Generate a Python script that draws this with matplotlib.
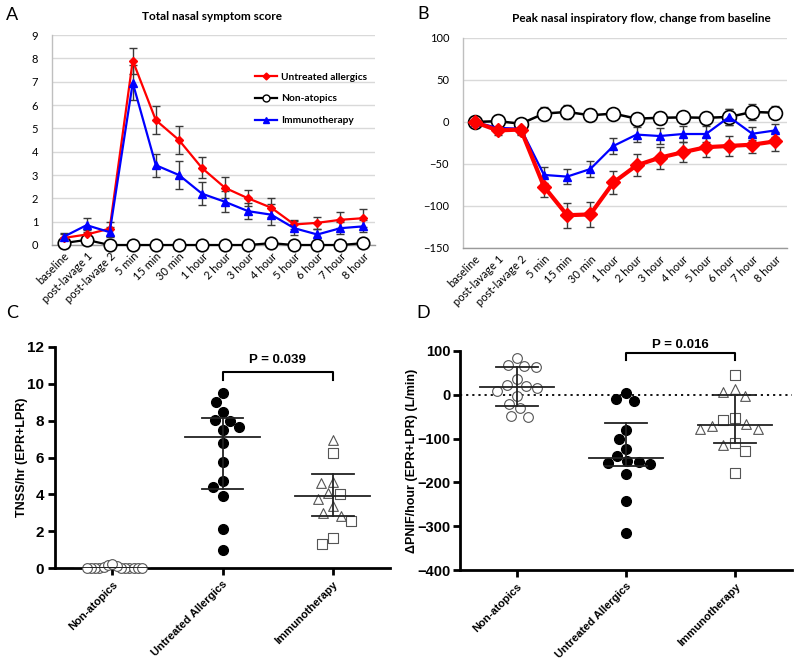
import numpy as np
import matplotlib
matplotlib.use("Agg")
import matplotlib.pyplot as plt
from matplotlib.lines import Line2D

# ---------------- data ----------------
timepoints = ["baseline", "post-lavage 1", "post-lavage 2", "5 min", "15 min", "30 min",
              "1 hour", "2 hour", "3 hour", "4 hour", "5 hour", "6 hour", "7 hour", "8 hour"]

tnss_untreated = [0.3, 0.45, 0.7, 7.9, 5.35, 4.5, 3.3, 2.45, 2.0, 1.6, 0.88, 0.95, 1.08, 1.15]
tnss_untreated_err = [0.15, 0.2, 0.3, 0.55, 0.6, 0.6, 0.45, 0.45, 0.35, 0.4, 0.2, 0.25, 0.35, 0.4]
tnss_immuno = [0.35, 0.85, 0.55, 6.95, 3.42, 3.0, 2.2, 1.85, 1.45, 1.3, 0.72, 0.45, 0.72, 0.8]
tnss_immuno_err = [0.15, 0.3, 0.2, 0.75, 0.5, 0.6, 0.5, 0.45, 0.35, 0.45, 0.3, 0.25, 0.25, 0.25]
tnss_nonatopic = [0.08, 0.22, 0.0, 0.0, 0.0, 0.0, 0.0, 0.0, 0.0, 0.08, 0.0, 0.0, 0.0, 0.08]

pnif_untreated = [0, -10, -9, -77, -111, -110, -72, -51.6, -42.5, -36, -30, -28.5, -27, -23]
pnif_untreated_err = [0, 6, 7, 12, 15, 15, 14, 13, 13, 12, 12, 12, 10, 11]
pnif_immuno = [0, -7, -8, -63, -65, -56, -28.5, -15, -16.7, -14.3, -14.3, 6, -14, -10]
pnif_immuno_err = [0, 5, 6, 10, 9, 9, 9, 9, 9, 9, 10, 9, 8, 8]
pnif_nonatopic = [0, 1, -2, 10, 12, 8, 10, 4, 5, 5.5, 5, 6, 12, 11]
pnif_nonatopic_err = [0, 7, 5, 8, 8, 7, 0, 7, 7, 7, 7, 10, 10, 8]

groups = ["Non-atopics", "Untreated Allergics", "Immunotherapy"]

c_nonatopic = [0, 0, 0, 0, 0, 0, 0.1, 0.05, 0.15, 0.2, 0, 0, 0, 0]
c_untreated = [9.48, 8.99, 8.45, 8.03, 8.0, 7.67, 7.49, 6.77, 5.74, 4.73, 4.42, 3.92, 2.13, 0.96]
c_immuno_tri = [6.95, 4.6, 4.66, 4.06, 3.74, 3.34, 2.98, 2.85]
c_immuno_sq = [6.23, 4.0, 2.56, 1.62, 1.3]
c_median = [0.0, 7.12, 3.92]
c_q1 = [0.0, 4.3, 2.8]
c_q3 = [0.0, 8.15, 5.1]

d_nonatopic = [85, 65, 67, 63.5, 35, 19.5, 21.7, 15.7, 8, -2.6, -22, -31, -50, -49]
d_untreated = [4, -10, -14.7, -81, -102, -123, -140, -152, -155, -159, -153, -180, -242, -315]
d_immuno_sq = [44.5, -56.5, -53, -109, -128, -178]
d_immuno_tri = [6.5, -2.6, 14, -71.7, -79, -77, -65.7, -115]
d_median = [17, -145, -68]
d_q1 = [-24.6, -163, -110]
d_q3 = [64, -64, 0]

# ---------------- figure ----------------
W, H = 800, 664
fig = plt.figure(figsize=(W / 100, H / 100), dpi=100)

def px_axes(left, top, right, bottom):
    return fig.add_axes([left / W, 1 - bottom / H, (right - left) / W, (bottom - top) / H])

XL_FONT = ["Lato", "DejaVu Sans"]
GP_FONT = ["Liberation Sans", "DejaVu Sans"]
ERR_C = "#3a3a3a"

def excel_style(ax, ylim, yticks):
    ax.set_xlim(-0.5, len(timepoints) - 0.5)
    ax.set_ylim(*ylim)
    ax.set_yticks(yticks)
    ax.set_xticks(range(len(timepoints)))
    ax.set_xticklabels(timepoints, rotation=45, ha="right", rotation_mode="anchor",
                       fontsize=8, family=XL_FONT)
    for lab in ax.get_yticklabels():
        lab.set_family(XL_FONT)
        lab.set_fontsize(8)
    ax.tick_params(axis="both", length=0, pad=4)
    ax.tick_params(axis="y", pad=10)
    ax.grid(axis="y", color="#d9d9d9", linewidth=1)
    ax.set_axisbelow(True)
    for s in ["top", "right"]:
        ax.spines[s].set_visible(False)
    ax.spines["left"].set_color("#bfbfbf")
    ax.spines["bottom"].set_color("#9a9a9a")
    ax.spines["left"].set_linewidth(1)
    ax.spines["bottom"].set_linewidth(1)

x = np.arange(len(timepoints))

# ---------- Panel A ----------
axA = px_axes(52, 35, 375, 245)
excel_style(axA, (0, 9), range(0, 10))
axA.errorbar(x, tnss_untreated, yerr=tnss_untreated_err, fmt="none", ecolor=ERR_C,
             elinewidth=1, capsize=3, zorder=2)
axA.errorbar(x, tnss_immuno, yerr=tnss_immuno_err, fmt="none", ecolor=ERR_C,
             elinewidth=1, capsize=3, zorder=2)
axA.plot(x, tnss_nonatopic, color="black", lw=1.6, marker="o", ms=9,
         mfc="white", mec="black", mew=1.2, zorder=3, clip_on=False)
axA.plot(x, tnss_untreated, color="#ff0000", lw=1.6, marker="D", ms=4,
         mfc="#ff0000", mec="#ff0000", zorder=4)
axA.plot(x, tnss_immuno, color="#0000ff", lw=1.6, marker="^", ms=6,
         mfc="#0000ff", mec="#0000ff", zorder=5)
handles = [Line2D([], [], color="#ff0000", lw=1.6, marker="D", ms=3.5),
           Line2D([], [], color="black", lw=1.6, marker="o", ms=5, mfc="white"),
           Line2D([], [], color="#0000ff", lw=1.6, marker="^", ms=4.5)]
leg = axA.legend(handles, ["Untreated allergics", "Non-atopics", "Immunotherapy"],
                 loc="upper left", bbox_to_anchor=(0.6, 0.865), frameon=False,
                 handlelength=2.2, handletextpad=0.4, labelspacing=1.25,
                 prop={"family": XL_FONT, "weight": "bold", "size": 7.3})
fig.text(212 / W, 1 - 16 / H, "Total nasal symptom score", ha="center", va="center",
         fontsize=8.5, fontweight="bold", family=XL_FONT)
fig.text(12 / W, 1 - 15 / H, "A", ha="center", va="center", fontsize=13, family=XL_FONT)

# ---------- Panel B ----------
axB = px_axes(463, 38, 787, 248)
excel_style(axB, (-150, 100), range(-150, 101, 50))
axB.errorbar(x, pnif_nonatopic, yerr=pnif_nonatopic_err, fmt="none", ecolor=ERR_C,
             elinewidth=1, capsize=3, zorder=2)
axB.errorbar(x, pnif_untreated, yerr=pnif_untreated_err, fmt="none", ecolor=ERR_C,
             elinewidth=1, capsize=3, zorder=2)
axB.errorbar(x, pnif_immuno, yerr=pnif_immuno_err, fmt="none", ecolor=ERR_C,
             elinewidth=1, capsize=3, zorder=2)
axB.plot(x, pnif_nonatopic, color="black", lw=1.8, marker="o", ms=10,
         mfc="white", mec="black", mew=1.2, zorder=3)
axB.plot(x, pnif_immuno, color="#0000ff", lw=1.6, marker="^", ms=5.5,
         mfc="#0000ff", mec="#0000ff", zorder=4)
axB.plot(x, pnif_untreated, color="#ff0000", lw=3, marker="D", ms=7,
         mfc="#ff0000", mec="#ff0000", zorder=5)
fig.text(641 / W, 1 - 18 / H, "Peak nasal inspiratory flow, change from baseline",
         ha="center", va="center", fontsize=8.5, fontweight="bold", family=XL_FONT)
fig.text(423 / W, 1 - 14 / H, "B", ha="center", va="center", fontsize=13, family=XL_FONT)


# ---------- swarm helper ----------
def swarm(ax, values, diam_px, max_half_px):
    fig.canvas.draw()
    bb = ax.get_window_extent()
    y0, y1 = ax.get_ylim()
    x0, x1 = ax.get_xlim()
    ypx = (np.asarray(values, float) - y0) / (y1 - y0) * bb.height
    order = np.argsort(-ypx)
    placed = []
    offs = np.zeros(len(values))
    for i in order:
        y = ypx[i]
        cands = [0.0]
        for (ox, oy) in placed:
            dy = y - oy
            if abs(dy) < diam_px:
                dx = np.sqrt(diam_px ** 2 - dy ** 2)
                cands += [ox + dx, ox - dx]
        cands = sorted(cands, key=lambda c: (abs(c), c))
        for c in cands:
            if all((c - ox) ** 2 + (y - oy) ** 2 >= diam_px ** 2 - 1e-6 for ox, oy in placed):
                break
        placed.append((c, y))
        offs[i] = c
    m = np.max(np.abs(offs)) if len(offs) else 0
    if m > max_half_px:
        offs = offs * max_half_px / m
    return offs / bb.width * (x1 - x0)


def graphpad_style(ax, ylim, yticks, ylabel, ysize=11):
    ax.set_xlim(-0.52, 2.52)
    ax.set_ylim(*ylim)
    ax.set_yticks(yticks)
    ax.set_xticks(range(3))
    ax.set_xticklabels(groups, rotation=45, ha="right", rotation_mode="anchor",
                       fontsize=8, fontweight="bold", family=GP_FONT)
    for lab in ax.get_yticklabels():
        lab.set_family(GP_FONT)
        lab.set_fontweight("bold")
        lab.set_fontsize(ysize)
    for s in ["top", "right"]:
        ax.spines[s].set_visible(False)
    for s in ["left", "bottom"]:
        ax.spines[s].set_linewidth(2)
    ax.tick_params(axis="both", width=2, length=5, pad=3)
    ax.set_ylabel(ylabel, fontsize=9, fontweight="bold", family=GP_FONT)


def summary(ax, medians, q1s, q3s, mw=0.34, cw=0.19):
    for i, (m, a, b) in enumerate(zip(medians, q1s, q3s)):
        ax.plot([i - mw, i + mw], [m, m], color="#222222", lw=1.3, zorder=4)
        ax.plot([i, i], [a, b], color="#222222", lw=1.3, zorder=4)
        ax.plot([i - cw, i + cw], [a, a], color="#222222", lw=1.3, zorder=4)
        ax.plot([i - cw, i + cw], [b, b], color="#222222", lw=1.3, zorder=4)


# ---------- Panel C ----------
axC = px_axes(55, 347, 390, 568)
graphpad_style(axC, (0, 12), range(0, 13, 2), "TNSS/hr (EPR+LPR)")
axC.yaxis.set_label_coords(-0.08, 0.5)
ms = 7
o = swarm(axC, c_nonatopic, 9.5, 30)
axC.scatter(0 + o, c_nonatopic, s=ms ** 2, marker="o", facecolors="white",
            edgecolors="#555555", linewidths=0.8, zorder=3, clip_on=False)
o = swarm(axC, c_untreated, 11, 40)
axC.scatter(1 + o, c_untreated, s=ms ** 2, marker="o", color="black", zorder=3)
imm = c_immuno_tri + c_immuno_sq
o = swarm(axC, imm, 12, 40)
nt = len(c_immuno_tri)
axC.scatter(2 + o[:nt], c_immuno_tri, s=ms ** 2, marker="^", facecolors="white",
            edgecolors="#555555", linewidths=0.8, zorder=3)
axC.scatter(2 + o[nt:], c_immuno_sq, s=(ms - 0.5) ** 2, marker="s", facecolors="white",
            edgecolors="#555555", linewidths=0.8, zorder=3)
summary(axC, c_median, c_q1, c_q3)
axC.plot([1, 1, 2, 2], [10.2, 10.62, 10.62, 10.2], color="black", lw=1.5)
axC.text(1.5, 11.3, "P = 0.039", ha="center", va="center", fontsize=9.5,
         fontweight="bold", family=GP_FONT)
fig.text(12 / W, 1 - 313 / H, "C", ha="center", va="center", fontsize=13, family=XL_FONT)

# ---------- Panel D ----------
axD = px_axes(460, 351, 792, 570)
graphpad_style(axD, (-400, 100), range(-400, 101, 100), "\u0394PNIF/hour (EPR+LPR) (L/min)",
               ysize=10.5)
axD.tick_params(axis="y", pad=2)
axD.yaxis.set_label_coords(-0.125, 0.5)
axD.axhline(0, color="black", lw=1.3, ls=(0, (1.2, 2.2)), zorder=1)
o = swarm(axD, d_nonatopic, 11.5, 60)
axD.scatter(0 + o, d_nonatopic, s=ms ** 2, marker="o", facecolors="white",
            edgecolors="#555555", linewidths=0.8, zorder=3)
o = swarm(axD, d_untreated, 11.5, 60)
axD.scatter(1 + o, d_untreated, s=ms ** 2, marker="o", color="black", zorder=3)
imm = d_immuno_sq + d_immuno_tri
o = swarm(axD, imm, 12.5, 60)
ns = len(d_immuno_sq)
axD.scatter(2 + o[:ns], d_immuno_sq, s=(ms - 0.5) ** 2, marker="s", facecolors="white",
            edgecolors="#555555", linewidths=0.8, zorder=3)
axD.scatter(2 + o[ns:], d_immuno_tri, s=ms ** 2, marker="^", facecolors="white",
            edgecolors="#555555", linewidths=0.8, zorder=3)
summary(axD, d_median, d_q1, d_q3)
axD.plot([1, 1, 2, 2], [79, 96, 96, 79], color="black", lw=1.5, clip_on=False)
axD.text(1.5, 113, "P = 0.016", ha="center", va="center", fontsize=9.5,
         fontweight="bold", family=GP_FONT, clip_on=False)
fig.text(423 / W, 1 - 313 / H, "D", ha="center", va="center", fontsize=13, family=XL_FONT)

fig.savefig("out.png", dpi=100)
